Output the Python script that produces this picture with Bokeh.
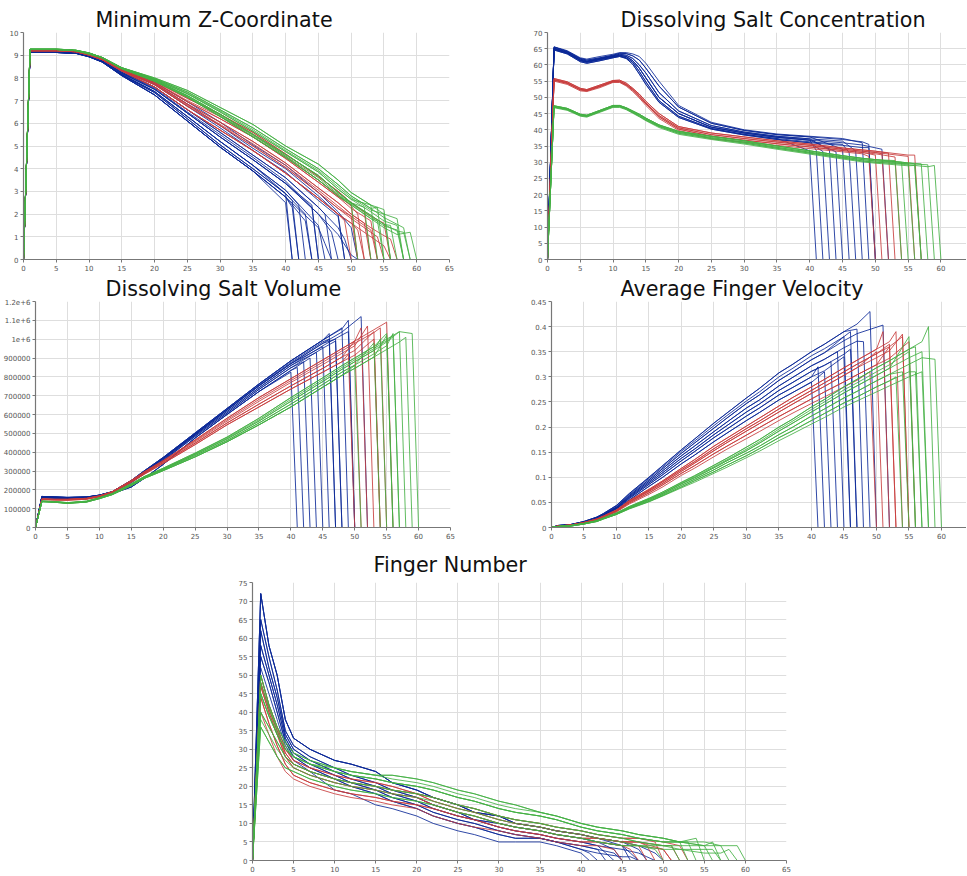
from bokeh.plotting import figure
from bokeh.layouts import column, row
from bokeh.models import Range1d, FixedTicker, Title, Spacer
from bokeh.embed import file_html
from bokeh.resources import INLINE

BLUE = "#0a2896"
RED = "#c83c3c"
GREEN = "#44b044"

X_TICKS = [0, 5, 10, 15, 20, 25, 30, 35, 40, 45, 50, 55, 60, 65]

# ---------------- Minimum Z-Coordinate ----------------
Z_GRID = [0, 1, 5, 8, 10, 12, 15, 20, 25, 30, 35, 40, 45, 48, 50, 53, 55, 57]
Z_BLUE = [
    [0, 9.15, 9.15, 9.15, 9.05, 8.85, 8.35, 7.8, 6.95, 6.05, 5.05, 4.15, 2.95, 2.1, 1.4],
    [0, 9.15, 9.15, 9.13, 9.02, 8.82, 8.3, 7.7, 6.75, 5.8, 4.8, 3.85, 2.6, 1.8, 1.0],
    [0, 9.15, 9.15, 9.12, 9.0, 8.8, 8.25, 7.6, 6.6, 5.6, 4.6, 3.6, 2.3, 1.4, 0.7],
    [0, 9.13, 9.13, 9.1, 8.98, 8.77, 8.2, 7.5, 6.45, 5.4, 4.4, 3.35, 2.0, 1.1, 0.4],
    [0, 9.12, 9.12, 9.1, 8.95, 8.72, 8.15, 7.4, 6.3, 5.2, 4.15, 3.05, 1.7, 0.8, 0.2],
    [0, 9.12, 9.12, 9.08, 8.93, 8.7, 8.1, 7.25, 6.1, 4.95, 3.9, 2.75, 1.4, 0.5, 0.05],
    [0, 9.15, 9.15, 9.14, 9.03, 8.83, 8.32, 7.75, 6.85, 5.9, 4.9, 4.0, 2.8, 1.95, 1.2],
    [0, 9.14, 9.14, 9.11, 8.99, 8.78, 8.22, 7.55, 6.5, 5.5, 4.5, 3.45, 2.15, 1.25, 0.55],
    [0, 9.12, 9.12, 9.09, 8.94, 8.71, 8.12, 7.35, 6.2, 5.05, 4.0, 2.9, 1.55, 0.65, 0.1],
]
Z_BLUE_RUNS = [(41, 5, 2.5), (41, 4, 2.9), (42, 5, 2.3), (42, 8, 2.6), (43, 4, 2.4), (44, 5, 1.7),
               (44, 8, 2.0), (45, 3, 2.4), (45, 7, 2.3), (46, 4, 1.5), (47, 2, 2.0), (47, 5, 0.7),
               (48, 3, 1.2), (49, 1, 1.9), (49, 6, 2.0), (50, 2, 0.9), (51, 0, 1.4), (51, 3, 0.2)]
Z_RED = [
    [0, 9.2, 9.2, 9.17, 9.05, 8.85, 8.4, 7.85, 7.1, 6.4, 5.6, 4.65, 3.65, 3.0, 2.5, 1.9, 1.5, 1.1],
    [0, 9.2, 9.2, 9.17, 9.05, 8.85, 8.37, 7.8, 6.95, 6.2, 5.4, 4.45, 3.4, 2.75, 2.25, 1.65, 1.3, 0.95],
    [0, 9.2, 9.2, 9.16, 9.03, 8.83, 8.35, 7.75, 6.85, 6.05, 5.2, 4.25, 3.15, 2.5, 2.0, 1.4, 1.05, 0.75],
    [0, 9.2, 9.2, 9.15, 9.02, 8.8, 8.32, 7.7, 6.75, 5.9, 5.0, 4.05, 2.95, 2.25, 1.8, 1.2, 0.85, 0.55],
    [0, 9.2, 9.2, 9.15, 9.0, 8.8, 8.3, 7.6, 6.6, 5.7, 4.8, 3.8, 2.7, 2.0, 1.6, 1.0, 0.7, 0.4],
    [0, 9.2, 9.2, 9.17, 9.05, 8.85, 8.38, 7.82, 7.0, 6.3, 5.5, 4.55, 3.5, 2.85, 2.35, 1.75, 1.4, 1.0],
    [0, 9.2, 9.2, 9.15, 9.01, 8.8, 8.31, 7.72, 6.8, 5.95, 5.1, 4.15, 3.05, 2.35, 1.9, 1.3, 0.95, 0.65],
]
Z_RED_RUNS = [(50, 4, 1.7), (51, 3, 1.9), (51, 1, 2.4), (52, 4, 1.3), (52, 5, 2.0), (53, 2, 1.6),
              (53, 0, 2.1), (54, 1, 1.7), (54, 6, 1.3), (55, 3, 1.0), (56, 0, 1.6), (56, 4, 0.6),
              (57, 2, 0.9)]
Z_GREEN = [
    [0, 9.27, 9.27, 9.22, 9.1, 8.9, 8.45, 8.0, 7.45, 6.7, 5.95, 5.0, 4.2, 3.5, 2.95, 2.4, 2.0, 1.7],
    [0, 9.27, 9.27, 9.22, 9.1, 8.9, 8.45, 7.97, 7.38, 6.6, 5.8, 4.88, 4.0, 3.3, 2.8, 2.25, 1.85, 1.55],
    [0, 9.26, 9.26, 9.21, 9.09, 8.9, 8.43, 7.93, 7.3, 6.5, 5.65, 4.75, 3.85, 3.1, 2.65, 2.1, 1.7, 1.4],
    [0, 9.25, 9.25, 9.2, 9.08, 8.89, 8.42, 7.9, 7.22, 6.4, 5.52, 4.62, 3.7, 2.95, 2.5, 1.95, 1.55, 1.25],
    [0, 9.25, 9.25, 9.2, 9.05, 8.88, 8.4, 7.85, 7.15, 6.3, 5.4, 4.5, 3.5, 2.8, 2.4, 1.8, 1.4, 1.1],
    [0, 9.26, 9.26, 9.21, 9.1, 8.9, 8.44, 7.95, 7.33, 6.55, 5.72, 4.8, 3.92, 3.2, 2.72, 2.18, 1.78, 1.48],
    [0, 9.25, 9.25, 9.2, 9.07, 8.88, 8.41, 7.88, 7.18, 6.35, 5.46, 4.56, 3.6, 2.88, 2.45, 1.88, 1.48, 1.18],
]
Z_GREEN_RUNS = [(51, 4, 2.5), (53, 3, 2.3), (54, 2, 2.4), (55, 1, 2.3), (55, 4, 1.7), (56, 0, 2.2),
                (56, 5, 2.0), (57, 3, 1.5), (58, 2, 1.5), (58, 0, 1.8), (58, 6, 1.3), (59, 1, 1.4),
                (59, 3, 1.2), (60, 4, 1.2)]
Z_Y_TICKS = [0, 1, 2, 3, 4, 5, 6, 7, 8, 9, 10]

# ---------------- Dissolving Salt Concentration ----------------
C_GRID = [0, 1, 3, 5, 6, 8, 10, 11, 12, 13, 14, 15, 17, 20, 25, 30, 35, 40, 45, 48, 50, 55, 58]
C_BLUE = [
    [0, 65.6, 64.4, 62.2, 61.8, 62.6, 63.3, 63.8, 63.8, 63.4, 62.6, 60.5, 55.0, 47.5, 42.3, 40.0, 38.7, 38.0, 37.3, 36.6],
    [0, 65.5, 64.2, 62.0, 61.5, 62.2, 63.0, 63.6, 63.5, 62.8, 61.5, 59.0, 53.5, 47.0, 42.0, 39.8, 38.5, 37.8, 37.0, 36.3],
    [0, 65.2, 64.0, 61.8, 61.2, 62.0, 62.8, 63.3, 63.0, 62.0, 60.0, 57.5, 51.5, 45.8, 41.3, 39.3, 38.0, 37.2, 36.5, 35.8],
    [0, 65.0, 63.8, 61.5, 61.0, 61.8, 62.6, 63.0, 62.6, 61.3, 59.0, 56.0, 50.0, 45.0, 40.8, 39.0, 37.7, 36.8, 36.0, 35.3],
    [0, 64.8, 63.6, 61.3, 60.8, 61.6, 62.4, 62.8, 62.2, 60.8, 58.0, 54.8, 49.0, 44.2, 40.4, 38.6, 37.3, 36.3, 35.5, 34.8],
    [0, 64.6, 63.4, 61.0, 60.5, 61.3, 62.2, 62.6, 62.0, 60.2, 57.2, 54.0, 48.5, 43.8, 40.2, 38.4, 37.0, 36.0, 35.2, 34.5],
]
C_BLUE_RUNS = [(41, 4, 33.5), (42, 3, 33.6), (43, 5, 33.3), (44, 2, 33.8), (45, 3, 33.2), (46, 1, 34.0),
               (47, 4, 33.0), (48, 2, 33.5), (49, 0, 36.0), (50, 1, 35.5), (50, 5, 34.5), (52, 3, 34.0)]
C_RED = [
    [0, 55.8, 54.8, 52.8, 52.4, 53.8, 55.2, 55.3, 54.4, 52.8, 51.0, 48.8, 45.0, 41.0, 39.0, 37.8, 36.6, 35.6, 34.4, 33.8, 33.4, 32.2, 31.8],
    [0, 55.5, 54.5, 52.5, 52.2, 53.5, 55.0, 55.0, 54.0, 52.5, 50.5, 48.3, 44.4, 40.6, 38.5, 37.3, 36.2, 35.2, 34.0, 33.4, 33.0, 31.8, 31.4],
    [0, 55.3, 54.3, 52.3, 52.0, 53.3, 54.8, 54.8, 53.8, 52.2, 50.2, 48.0, 44.0, 40.2, 38.0, 36.8, 35.7, 34.7, 33.6, 33.0, 32.6, 31.4, 31.0],
    [0, 55.0, 54.0, 52.0, 51.8, 53.0, 54.6, 54.6, 53.5, 51.8, 49.8, 47.5, 43.5, 39.8, 37.2, 36.2, 35.2, 34.2, 33.2, 32.6, 32.2, 31.0, 30.6],
]
C_RED_RUNS = [(50, 3, 31.8), (51, 2, 32.2), (52, 1, 32.6), (53, 0, 32.8), (54, 2, 31.6), (56, 1, 31.8),
              (57, 0, 32.2)]
C_GREEN = [
    [0, 47.4, 46.6, 44.8, 44.5, 46.0, 47.5, 47.5, 46.8, 45.8, 44.8, 43.6, 41.5, 39.5, 38.0, 36.6, 35.0, 33.5, 32.0, 31.2, 30.8, 29.8, 29.2],
    [0, 47.2, 46.4, 44.6, 44.3, 45.8, 47.3, 47.3, 46.6, 45.5, 44.5, 43.3, 41.2, 39.2, 37.6, 36.2, 34.6, 33.1, 31.6, 30.8, 30.4, 29.5, 28.9],
    [0, 47.0, 46.2, 44.4, 44.1, 45.6, 47.1, 47.1, 46.4, 45.3, 44.2, 43.0, 41.0, 38.9, 37.3, 35.9, 34.3, 32.8, 31.3, 30.4, 30.0, 29.2, 28.6],
    [0, 46.8, 46.0, 44.2, 43.9, 45.4, 46.9, 46.9, 46.2, 45.1, 44.0, 42.8, 40.7, 38.6, 37.0, 35.6, 34.0, 32.5, 31.0, 30.1, 29.7, 28.9, 28.3],
]
C_GREEN_RUNS = [(54, 0, 30.5), (55, 1, 30.0), (56, 2, 29.5), (57, 3, 29.0), (57, 0, 29.5), (58, 0, 29.5),
                (59, 1, 29.2), (60, 2, 29.0)]
C_Y_TICKS = [0, 5, 10, 15, 20, 25, 30, 35, 40, 45, 50, 55, 60, 65, 70]

# ---------------- Dissolving Salt Volume ----------------
V_GRID = [0, 1, 3, 5, 8, 10, 12, 15, 17, 20, 25, 30, 35, 40, 45, 48, 50, 53, 55, 57]
V_BLUE = [
    [0, 165000, 162000, 160000, 162000, 172000, 190000, 250000, 300000, 372000, 502000, 632000, 762000, 885000, 995000, 1055000, 1095000],
    [0, 163000, 161000, 159000, 161000, 171000, 189000, 247000, 295000, 366000, 495000, 624000, 752000, 870000, 978000, 1038000],
    [0, 162000, 160000, 158000, 160000, 170000, 188000, 244000, 290000, 360000, 490000, 616000, 742000, 860000, 965000, 1022000],
    [0, 160000, 158000, 156000, 158000, 168000, 185000, 238000, 285000, 355000, 484000, 608000, 733000, 848000, 952000, 1008000],
    [0, 158000, 156000, 154000, 156000, 165000, 180000, 215000, 260000, 335000, 475000, 600000, 722000, 834000, 938000, 993000],
    [0, 164000, 161000, 159000, 161000, 171000, 189000, 248000, 296000, 368000, 498000, 627000, 756000, 877000, 986000, 1046000],
]
V_BLUE_RUNS = [(41, 4, 825000), (42, 4, 850000), (43, 3, 880000), (44, 4, 900000), (45, 2, 930000),
               (46, 1, 960000), (47, 0, 1030000), (47, 5, 1000000), (48, 3, 990000), (48, 1, 1000000),
               (49, 0, 1060000), (50, 2, 1040000), (50, 0, 1100000), (52, 1, 1120000)]
V_RED = [
    [0, 152000, 150000, 150000, 155000, 168000, 190000, 250000, 295000, 355000, 465000, 580000, 690000, 790000, 890000, 950000, 990000, 1050000, 1090000],
    [0, 150000, 148000, 148000, 153000, 166000, 188000, 246000, 290000, 350000, 455000, 565000, 670000, 770000, 865000, 925000, 965000, 1020000],
    [0, 150000, 148000, 147000, 152000, 165000, 186000, 243000, 286000, 345000, 448000, 555000, 655000, 752000, 845000, 905000, 940000, 1000000],
    [0, 148000, 146000, 145000, 150000, 163000, 184000, 240000, 282000, 340000, 440000, 545000, 640000, 735000, 825000, 880000, 915000, 975000],
    [0, 151000, 149000, 149000, 154000, 167000, 189000, 248000, 292000, 352000, 460000, 572000, 680000, 780000, 878000, 938000, 978000, 1035000],
]
V_RED_RUNS = [(50, 3, 920000), (51, 2, 990000), (52, 0, 1060000), (53, 1, 1070000), (54, 2, 1040000),
              (54, 3, 1000000), (55, 4, 1060000), (56, 0, 1090000)]
V_GREEN = [
    [0, 140000, 138000, 132000, 140000, 158000, 180000, 232000, 270000, 315000, 395000, 480000, 580000, 690000, 795000, 860000, 900000, 960000, 1000000, 1040000],
    [0, 140000, 136000, 130000, 138000, 156000, 178000, 228000, 266000, 310000, 388000, 470000, 565000, 670000, 775000, 840000, 880000, 940000, 985000, 1020000],
    [0, 138000, 135000, 130000, 137000, 155000, 176000, 226000, 263000, 306000, 382000, 462000, 555000, 655000, 760000, 825000, 862000, 922000, 965000, 1005000],
    [0, 137000, 134000, 128000, 135000, 153000, 174000, 222000, 260000, 302000, 375000, 455000, 545000, 640000, 745000, 808000, 845000, 905000, 945000, 985000],
    [0, 139000, 137000, 131000, 139000, 157000, 179000, 230000, 268000, 312000, 391000, 475000, 572000, 680000, 785000, 850000, 890000, 950000, 992000, 1030000],
]
V_GREEN_RUNS = [(51, 3, 860000), (54, 2, 980000), (55, 1, 1000000), (56, 0, 1030000), (56, 3, 1020000),
                (57, 2, 1030000), (57, 4, 1020000), (58, 1, 1040000), (59, 3, 1010000), (60, 0, 1030000)]
V_Y_TICKS = [0, 100000, 200000, 300000, 400000, 500000, 600000, 700000, 800000, 900000, 1000000, 1100000, 1200000]
V_Y_LABELS = ["0", "100000", "200000", "300000", "400000", "500000", "600000", "700000", "800000",
              "900000", "1e+6", "1.1e+6", "1.2e+6"]

# ---------------- Average Finger Velocity ----------------
F_GRID = [0, 1, 3, 5, 7, 8, 10, 12, 15, 17, 20, 22, 25, 27, 30, 32, 35, 37, 40, 42, 45, 47, 50, 52, 55, 57]
F_BLUE = [
    [0, 0.004, 0.006, 0.012, 0.021, 0.028, 0.044, 0.068, 0.1, 0.122, 0.155, 0.176, 0.208, 0.228, 0.258, 0.277, 0.308, 0.324, 0.35, 0.365, 0.39, 0.405, 0.43],
    [0, 0.004, 0.006, 0.011, 0.02, 0.026, 0.041, 0.064, 0.095, 0.116, 0.148, 0.168, 0.198, 0.218, 0.247, 0.264, 0.293, 0.309, 0.334, 0.348, 0.372, 0.386],
    [0, 0.003, 0.005, 0.011, 0.019, 0.025, 0.04, 0.062, 0.092, 0.112, 0.143, 0.162, 0.191, 0.21, 0.238, 0.254, 0.282, 0.298, 0.322, 0.335, 0.358, 0.371],
    [0, 0.003, 0.005, 0.01, 0.018, 0.024, 0.039, 0.06, 0.089, 0.108, 0.138, 0.156, 0.185, 0.203, 0.23, 0.246, 0.273, 0.288, 0.311, 0.323, 0.345, 0.357],
    [0, 0.003, 0.005, 0.01, 0.018, 0.024, 0.038, 0.058, 0.086, 0.104, 0.133, 0.151, 0.179, 0.196, 0.222, 0.238, 0.264, 0.278, 0.3, 0.312, 0.333],
    [0, 0.002, 0.004, 0.009, 0.017, 0.023, 0.037, 0.055, 0.082, 0.099, 0.127, 0.144, 0.171, 0.188, 0.213, 0.229, 0.254, 0.268, 0.289, 0.3, 0.32],
    [0, 0.004, 0.006, 0.012, 0.02, 0.027, 0.043, 0.066, 0.098, 0.119, 0.152, 0.172, 0.203, 0.223, 0.252, 0.27, 0.3, 0.316, 0.342, 0.356, 0.38, 0.395],
]
F_BLUE_RUNS = [(41, 5, 0.29), (42, 4, 0.32), (43, 5, 0.31), (44, 3, 0.33), (45, 2, 0.35), (46, 1, 0.38),
               (46, 4, 0.34), (47, 3, 0.355), (47, 6, 0.39), (48, 0, 0.395), (49, 2, 0.37), (50, 0, 0.43),
               (52, 1, 0.403)]
F_RED = [
    [0, 0.003, 0.005, 0.01, 0.017, 0.023, 0.035, 0.054, 0.076, 0.092, 0.118, 0.135, 0.162, 0.178, 0.202, 0.218, 0.242, 0.258, 0.28, 0.295, 0.318, 0.333, 0.355, 0.37, 0.39],
    [0, 0.003, 0.005, 0.009, 0.016, 0.022, 0.033, 0.051, 0.072, 0.087, 0.112, 0.128, 0.153, 0.169, 0.192, 0.207, 0.23, 0.245, 0.267, 0.281, 0.303, 0.318, 0.338, 0.352, 0.372],
    [0, 0.002, 0.004, 0.009, 0.015, 0.021, 0.032, 0.049, 0.069, 0.084, 0.108, 0.123, 0.147, 0.162, 0.184, 0.199, 0.221, 0.235, 0.256, 0.27, 0.29, 0.304, 0.324, 0.337, 0.356],
    [0, 0.002, 0.004, 0.008, 0.014, 0.02, 0.031, 0.047, 0.066, 0.08, 0.104, 0.118, 0.141, 0.156, 0.177, 0.191, 0.213, 0.227, 0.247, 0.26, 0.28, 0.293, 0.312, 0.325, 0.343],
    [0, 0.003, 0.005, 0.01, 0.017, 0.022, 0.034, 0.052, 0.074, 0.09, 0.115, 0.131, 0.157, 0.173, 0.197, 0.212, 0.236, 0.251, 0.273, 0.288, 0.31, 0.325, 0.346, 0.36, 0.38],
]
F_RED_RUNS = [(50, 3, 0.31), (51, 1, 0.35), (52, 0, 0.39), (53, 2, 0.36), (53, 4, 0.365), (54, 0, 0.39),
              (55, 1, 0.385), (55, 4, 0.38), (56, 2, 0.37)]
F_GREEN = [
    [0, 0.002, 0.004, 0.008, 0.014, 0.019, 0.029, 0.042, 0.058, 0.07, 0.09, 0.103, 0.124, 0.138, 0.16, 0.175, 0.2, 0.215, 0.24, 0.255, 0.28, 0.295, 0.318, 0.332, 0.355, 0.37],
    [0, 0.002, 0.004, 0.008, 0.013, 0.018, 0.028, 0.04, 0.056, 0.067, 0.087, 0.099, 0.119, 0.133, 0.153, 0.168, 0.192, 0.207, 0.23, 0.245, 0.268, 0.282, 0.303, 0.317, 0.338, 0.352],
    [0, 0.002, 0.003, 0.007, 0.013, 0.018, 0.027, 0.039, 0.054, 0.065, 0.084, 0.096, 0.115, 0.129, 0.148, 0.162, 0.185, 0.199, 0.222, 0.236, 0.258, 0.271, 0.292, 0.305, 0.325, 0.338],
    [0, 0.002, 0.003, 0.007, 0.012, 0.017, 0.026, 0.038, 0.052, 0.063, 0.081, 0.093, 0.111, 0.124, 0.143, 0.157, 0.179, 0.192, 0.213, 0.227, 0.248, 0.26, 0.28, 0.292, 0.31, 0.322],
    [0, 0.002, 0.004, 0.008, 0.013, 0.018, 0.028, 0.041, 0.057, 0.068, 0.088, 0.101, 0.121, 0.135, 0.156, 0.171, 0.196, 0.211, 0.235, 0.25, 0.274, 0.288, 0.31, 0.324, 0.346, 0.36],
    [0, 0.002, 0.003, 0.007, 0.012, 0.017, 0.026, 0.037, 0.051, 0.062, 0.079, 0.09, 0.108, 0.12, 0.139, 0.152, 0.173, 0.186, 0.206, 0.219, 0.24, 0.252, 0.27, 0.282, 0.3, 0.31],
]
F_GREEN_RUNS = [(54, 3, 0.3), (55, 2, 0.31), (56, 1, 0.38), (56, 4, 0.35), (57, 0, 0.36), (57, 3, 0.31),
                (58, 1, 0.35), (58, 5, 0.31), (59, 0, 0.4), (60, 2, 0.335)]
F_Y_TICKS = [0, 0.05, 0.1, 0.15, 0.2, 0.25, 0.3, 0.35, 0.4, 0.45]
F_Y_LABELS = ["0", "0.05", "0.1", "0.15", "0.2", "0.25", "0.3", "0.35", "0.4", "0.45"]

# ---------------- Finger Number ----------------
N_GRID = [0, 1, 2, 3, 4, 5, 7, 10, 12, 15, 17, 20, 22, 25, 27, 30, 32, 35, 37, 40, 42, 45, 47, 50, 52, 55, 57]
N_BLUE = [
    [0, 72, 58, 50, 38, 33, 30, 27, 26, 24, 21, 19, 17, 15, 13, 12, 10, 9, 8, 7, 6, 5, 4],
    [0, 65, 55, 46, 35, 31, 28, 25, 23, 21, 19, 17, 15, 13, 11, 10, 9, 8, 7, 6, 5, 4, 3],
    [0, 62, 52, 44, 34, 30, 27, 24, 22, 20, 18, 16, 14, 12, 11, 9, 8, 7, 6, 5, 4, 3, 2],
    [0, 58, 50, 42, 33, 29, 26, 23, 21, 19, 17, 15, 13, 11, 10, 8, 7, 6, 5, 4, 3, 2, 2],
    [0, 55, 48, 40, 32, 28, 25, 22, 20, 18, 16, 14, 12, 10, 9, 7, 6, 6, 5, 3, 2, 1, 1],
    [0, 52, 45, 38, 31, 27, 24, 19, 18, 15, 14, 12, 10, 8, 7, 5, 5, 5, 4, 2, 1, 0, 0],
]
N_BLUE_RUNS = [(41, 5, 2), (42, 4, 2), (43, 3, 3), (44, 2, 2), (45, 1, 3), (46, 0, 4), (47, 1, 2),
               (48, 0, 3), (49, 2, 1), (50, 0, 2), (47, 4, 1), (45, 3, 2)]
N_RED = [
    [0, 50, 42, 36, 30, 27, 25, 23, 22, 21, 20, 18, 17, 15, 14, 12, 11, 10, 9, 8, 7, 6, 6, 5, 5, 4],
    [0, 47, 40, 34, 28, 25, 23, 21, 20, 19, 18, 17, 15, 13, 12, 10, 9, 8, 7, 6, 6, 5, 5, 4, 3],
    [0, 44, 37, 31, 26, 23, 21, 19, 18, 17, 16, 15, 14, 12, 11, 9, 8, 7, 6, 5, 5, 4, 4, 3, 2],
    [0, 40, 34, 28, 24, 22, 20, 18, 17, 16, 15, 14, 12, 10, 9, 8, 7, 6, 5, 4, 4, 3, 2, 2, 1],
    [0, 48, 41, 35, 29, 26, 24, 22, 21, 20, 19, 18, 16, 14, 13, 11, 10, 9, 8, 7, 6, 5, 5, 4, 4, 3],
]
N_RED_RUNS = [(45, 3, 3), (47, 2, 3), (48, 4, 4), (49, 1, 4), (50, 0, 5), (51, 2, 3), (51, 4, 3),
              (52, 1, 4), (53, 0, 4)]
N_GREEN = [
    [0, 50, 42, 36, 32, 29, 27, 25, 24, 23, 23, 22, 21, 19, 18, 16, 15, 13, 12, 10, 9, 8, 7, 6, 5, 5, 4],
    [0, 45, 39, 34, 30, 28, 26, 24, 23, 22, 21, 20, 19, 17, 16, 14, 13, 12, 11, 9, 8, 7, 6, 5, 5, 4, 4],
    [0, 40, 36, 32, 28, 26, 24, 22, 21, 20, 19, 18, 17, 15, 14, 12, 11, 10, 9, 8, 7, 6, 5, 4, 4, 3, 3],
    [0, 36, 32, 28, 25, 24, 22, 20, 19, 18, 17, 16, 15, 13, 12, 10, 9, 8, 7, 6, 5, 4, 4, 3, 3, 2, 2],
    [0, 48, 41, 35, 31, 28, 26, 25, 24, 23, 22, 21, 20, 18, 17, 15, 14, 13, 12, 10, 9, 8, 7, 6, 5, 4, 4],
    [0, 38, 34, 30, 27, 25, 23, 21, 20, 19, 18, 17, 16, 14, 13, 11, 10, 9, 8, 7, 6, 5, 4, 4, 3, 3, 2],
]
N_GREEN_RUNS = [(50, 3, 3), (52, 2, 4), (53, 4, 5), (54, 1, 5), (55, 0, 6), (56, 2, 4), (57, 1, 5),
                (57, 5, 3), (58, 0, 4), (59, 3, 3), (60, 1, 4)]
N_Y_TICKS = [0, 5, 10, 15, 20, 25, 30, 35, 40, 45, 50, 55, 60, 65, 70, 75]


def build_lines(grid, curves, runs):
    xs, ys = [], []
    for end, ci, top in runs:
        px = [t for t, v in zip(grid, curves[ci]) if t < end - 1]
        py = [v for t, v in zip(grid, curves[ci]) if t < end - 1]
        xs.append(px + [end - 1, end])
        ys.append(py + [top, 0])
    return xs, ys


def make_panel(title, title_offset, standoff, width, height, xr, yr, yticks, ylabels,
               border_left, border_right, border_top, border_bottom, series):
    p = figure(width=width, height=height, x_range=Range1d(*xr), y_range=Range1d(*yr),
               output_backend="svg", toolbar_location=None,
               min_border_left=border_left, min_border_right=border_right,
               min_border_top=border_top, min_border_bottom=border_bottom)
    p.title = Title(text=title, align="left", offset=title_offset, text_font="DejaVu Sans",
                    text_font_size="20.7px", text_font_style="normal", text_color="#111111",
                    standoff=standoff)
    p.outline_line_color = None
    p.background_fill_color = "white"
    p.border_fill_color = "white"
    for grid, curves, runs, color in series:
        xs, ys = build_lines(grid, curves, runs)
        p.multi_line(xs, ys, line_color=color, line_width=1, line_alpha=0.85)
    p.xaxis.ticker = FixedTicker(ticks=X_TICKS)
    p.yaxis.ticker = FixedTicker(ticks=yticks)
    p.xgrid.ticker = FixedTicker(ticks=X_TICKS)
    p.ygrid.ticker = FixedTicker(ticks=yticks)
    if ylabels is not None:
        p.yaxis.major_label_overrides = {t: l for t, l in zip(yticks, ylabels)}
    for ax in (p.xaxis, p.yaxis):
        ax.axis_line_color = "#777777"
        ax.axis_line_width = 1.2
        ax.major_tick_line_color = "#777777"
        ax.major_tick_out = 3
        ax.major_tick_in = 0
        ax.minor_tick_line_color = None
        ax.major_label_text_font = "DejaVu Sans"
        ax.major_label_text_font_size = "7px"
        ax.major_label_text_color = "#555555"
        ax.major_label_standoff = 2
    p.grid.grid_line_color = "#dedede"
    p.grid.grid_line_width = 1
    return p


p1 = make_panel("Minimum Z-Coordinate", 72, 2, 527, 273, (0, 65), (0, 10), Z_Y_TICKS, None,
                23, 78, 32, 12,
                [(Z_GRID, Z_BLUE, Z_BLUE_RUNS, BLUE), (Z_GRID, Z_RED, Z_RED_RUNS, RED),
                 (Z_GRID, Z_GREEN, Z_GREEN_RUNS, GREEN)])
p2 = make_panel("Dissolving Salt Concentration", 73, 2, 439, 273, (0, 63.9), (0, 70), C_Y_TICKS, None,
                20, 0, 32, 12,
                [(C_GRID, C_BLUE, C_BLUE_RUNS, BLUE), (C_GRID, C_RED, C_RED_RUNS, RED),
                 (C_GRID, C_GREEN, C_GREEN_RUNS, GREEN)])
p3 = make_panel("Dissolving Salt Volume", 70, 1, 527, 268, (0, 65), (0, 1200000), V_Y_TICKS, V_Y_LABELS,
                34, 77, 28, 13,
                [(V_GRID, V_BLUE, V_BLUE_RUNS, BLUE), (V_GRID, V_RED, V_RED_RUNS, RED),
                 (V_GRID, V_GREEN, V_GREEN_RUNS, GREEN)])
p4 = make_panel("Average Finger Velocity", 69, 1, 439, 268, (0, 63.85), (0, 0.45), F_Y_TICKS, F_Y_LABELS,
                24, 0, 28, 13,
                [(F_GRID, F_BLUE, F_BLUE_RUNS, BLUE), (F_GRID, F_RED, F_RED_RUNS, RED),
                 (F_GRID, F_GREEN, F_GREEN_RUNS, GREEN)])
p5 = make_panel("Finger Number", 121, 11, 574, 333, (0, 65), (0, 75), N_Y_TICKS, None,
                30, 10, 41, 13,
                [(N_GRID, N_BLUE, N_BLUE_RUNS, BLUE), (N_GRID, N_RED, N_RED_RUNS, RED),
                 (N_GRID, N_GREEN, N_GREEN_RUNS, GREEN)])

layout = column(row(p1, p2), row(p3, p4), row(Spacer(width=222, height=333), p5))

open("out.html", "w").write(file_html(layout, INLINE))
